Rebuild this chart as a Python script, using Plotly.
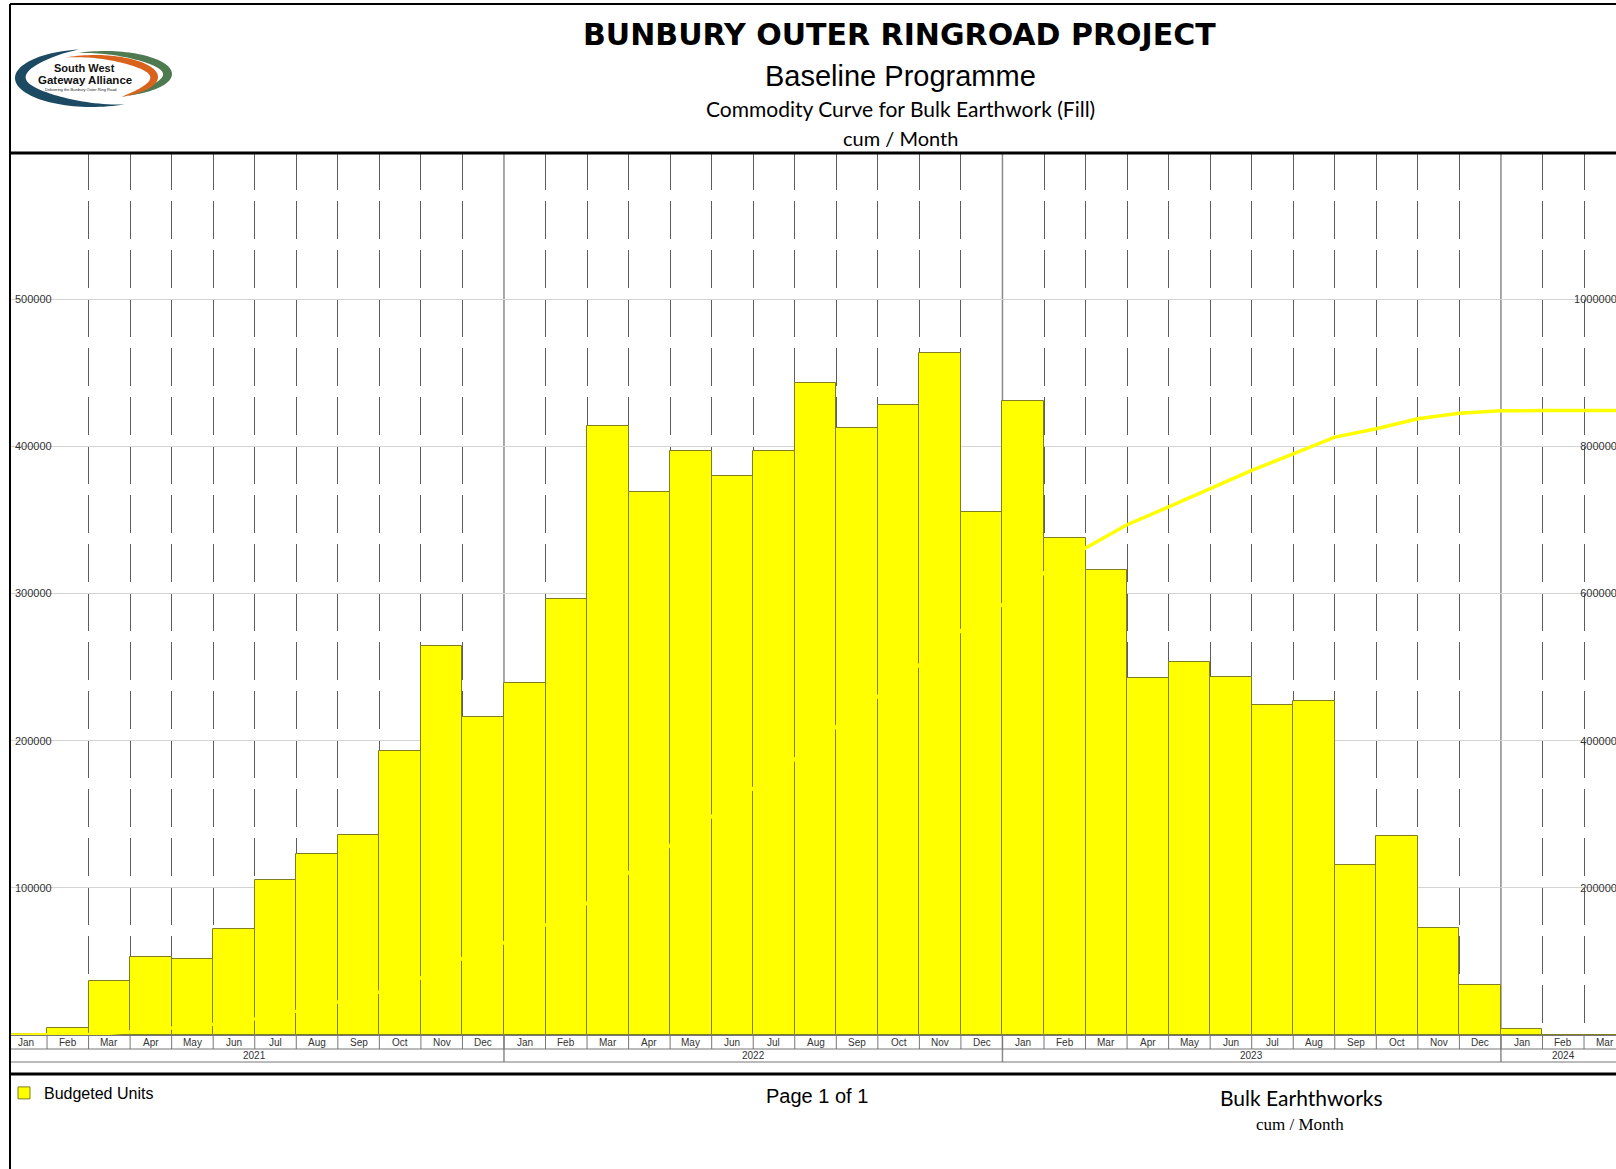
import math
import plotly.graph_objects as go

# ---------------- data ----------------
months = ["Jan", "Feb", "Mar", "Apr", "May", "Jun", "Jul", "Aug", "Sep", "Oct", "Nov", "Dec"] * 3 + ["Jan", "Feb", "Mar"]
years = ["2021", "2022", "2023", "2024"]
year_month_counts = [12, 12, 12, 3]

budgeted_units = [
    1000, 5000, 36500, 53000, 51700, 72000, 105400, 122900, 136200, 192700, 264000, 215800,
    239500, 296100, 414100, 368700, 396600, 379900, 396600, 442700, 412700, 428100, 463700, 355400,
    430900, 337400, 316300, 242300, 253500, 243000, 224200, 227000, 115200, 135500, 72600, 34200,
    4200, 0, 0,
]
cumulative_units = [
    1000, 6000, 42500, 95500, 147200, 219200, 324600, 447500, 583700, 776400, 1040400, 1256200,
    1495700, 1791800, 2205900, 2574600, 2971200, 3351100, 3747700, 4190400, 4603100, 5031200, 5494900, 5850300,
    6281200, 6618600, 6934900, 7177200, 7430700, 7673700, 7897900, 8124900, 8240100, 8375600, 8448200, 8482400,
    8486600, 8486600, 8486600,
]
left_ticks = [100000, 200000, 300000, 400000, 500000]
right_ticks = [2000000, 4000000, 6000000, 8000000, 10000000]

# ---------------- geometry helpers ----------------
W, H = 1616, 1169
PL, PR, PT, PB = 10, 1616, 152, 1035


def px(x):
    return (x - PL) / (PR - PL)


def py(y):
    return (PB - y) / (PB - PT)


x_idx = list(range(len(months)))
line_x = [-0.5] + [i + 0.5 for i in x_idx]
line_y = [0] + cumulative_units

year_starts = []
acc = 0
for c in year_month_counts:
    year_starts.append(acc)
    acc += c
year_bounds = [s - 0.5 for s in year_starts[1:]]
month_bounds = [i - 0.5 for i in x_idx[1:]]
minor_bounds = [b for b in month_bounds if b not in year_bounds] + [x_idx[-1] + 0.5]

AX_FONT = "Liberation Sans, Arial, sans-serif"

fig = go.Figure()
fig.add_trace(go.Bar(
    x=x_idx, y=budgeted_units, width=1.0, name="Budgeted Units",
    marker=dict(color="#FFFF00", line=dict(color="#7f7f22", width=1)),
    yaxis="y", showlegend=True,
))
fig.add_trace(go.Scatter(
    x=line_x, y=line_y, mode="lines", name="Cumulative",
    line=dict(color="#FFFF00", width=3.5), yaxis="y2", showlegend=False,
))

shapes = []
# year boundary solid lines (full height incl. label rows)
for b in year_bounds:
    shapes.append(dict(type="line", xref="x", yref="paper", x0=b, x1=b, y0=py(1062), y1=1,
                       line=dict(color="#8a8a8a", width=1.5), layer="below"))
# month separators in the month label row
for b in month_bounds:
    shapes.append(dict(type="line", xref="x", yref="paper", x0=b, x1=b, y0=py(1049), y1=0,
                       line=dict(color="#777777", width=1), layer="above"))
# label row horizontal lines
for yy in (1049, 1062):
    shapes.append(dict(type="line", xref="paper", yref="paper", x0=0, x1=1, y0=py(yy), y1=py(yy),
                       line=dict(color="#777777", width=1)))
# page frame & thick rules
shapes.append(dict(type="line", xref="paper", yref="paper", x0=0, x1=1, y0=py(1074), y1=py(1074),
                   line=dict(color="#000000", width=3)))
shapes.append(dict(type="line", xref="paper", yref="paper", x0=0, x1=1, y0=py(153), y1=py(153),
                   line=dict(color="#000000", width=3)))
shapes.append(dict(type="line", xref="paper", yref="paper", x0=0, x1=1, y0=py(4), y1=py(4),
                   line=dict(color="#000000", width=2)))
shapes.append(dict(type="line", xref="paper", yref="paper", x0=px(10), x1=px(10), y0=py(4), y1=py(1169),
                   line=dict(color="#000000", width=2)))


# ---------------- logo ----------------
def crescent(cx, cy, rx, ry, a0, a1, thick, peak, color, n=60):
    frac = (peak - a0) / (a1 - a0)
    p = math.log(0.5) / math.log(frac)
    outer, inner = [], []
    for k in range(n + 1):
        t = k / n
        a = math.radians(a0 + (a1 - a0) * t)
        w = thick * math.sin(math.pi * (t ** p))
        outer.append((cx + rx * math.cos(a), cy - ry * math.sin(a)))
        inner.append((cx + (rx - w) * math.cos(a), cy - (ry - w) * math.sin(a)))
    pts = outer + inner[::-1]
    path = "M " + " L ".join(f"{px(x):.5f},{py(y):.5f}" for x, y in pts) + " Z"
    return dict(type="path", xref="paper", yref="paper", path=path,
                fillcolor=color, line=dict(width=0))


shapes.append(crescent(92, 78, 77, 29, 100, 295, 11, 195, "#1d4a63"))
shapes.append(crescent(105, 74, 67, 23, -70, 115, 9, 8, "#4e7a52"))
shapes.append(crescent(95, 77, 63, 22, -65, 118, 8, 15, "#d9631d"))

annotations = []


def text(x, y, s, size, family, color="#000000", xanchor="center"):
    annotations.append(dict(x=px(x), y=py(y), xref="paper", yref="paper", text=s, showarrow=False,
                            xanchor=xanchor, yanchor="middle",
                            font=dict(size=size, family=family, color=color)))


text(84, 68.5, "<b>South West</b>", 11, AX_FONT, "#111111")
text(85, 80.5, "<b>Gateway Alliance</b>", 11.5, AX_FONT, "#111111")
text(81, 89.5, "Delivering the Bunbury Outer Ring Road", 4, AX_FONT, "#222222")

# header titles
text(899, 34, "<b>BUNBURY OUTER RINGROAD PROJECT</b>", 30, "DejaVu Sans, sans-serif")
text(900, 76, "Baseline Programme", 29, AX_FONT)
text(900, 109, "Commodity Curve for Bulk Earthwork (Fill)", 21, "Lato, sans-serif")
text(900, 138, "cum / Month", 20, "Lato, sans-serif")

# month labels (in the month row, positioned on the x scale)
for i, m in zip(x_idx, months):
    annotations.append(dict(x=i, y=py(1042), xref="x", yref="paper", text=m,
                            showarrow=False, xanchor="center", yanchor="middle",
                            font=dict(size=10, family=AX_FONT, color="#333333")))

# year labels
for yname, start, cnt in zip(years, year_starts, year_month_counts):
    annotations.append(dict(x=start + (cnt - 1) / 2, y=py(1055), xref="x", yref="paper", text=yname,
                            showarrow=False, xanchor="center", yanchor="middle",
                            font=dict(size=10, family=AX_FONT, color="#333333")))

# footer
text(817, 1096, "Page 1 of 1", 20, AX_FONT)
text(1301, 1097, "Bulk Earhthworks", 21, "Lato, sans-serif")
text(1300, 1124, "cum / Month", 17, "Liberation Serif, Times New Roman, serif")

fig.update_layout(
    width=W, height=H, autosize=False,
    margin=dict(l=PL, r=W - PR, t=PT, b=H - PB, pad=0),
    paper_bgcolor="#FFFFFF", plot_bgcolor="#FFFFFF",
    bargap=0, barmode="overlay",
    shapes=shapes, annotations=annotations,
    showlegend=True,
    legend=dict(x=px(4), y=py(1093), xanchor="left", yanchor="middle", orientation="h",
                font=dict(size=16, family=AX_FONT, color="#000000"), bgcolor="rgba(0,0,0,0)",
                itemwidth=30),
    xaxis=dict(
        range=[(PL - 5.5) / 41.54 - 0.5, (PR - 5.5) / 41.54 - 0.5],
        tickvals=x_idx, showticklabels=False, ticks="", showgrid=False, zeroline=False,
        showline=True, linecolor="#777777", linewidth=1,
        minor=dict(tickvals=minor_bounds, showgrid=True, gridcolor="#5c5c5c", gridwidth=1.2,
                   griddash="38px,11px", ticks=""),
        fixedrange=True, automargin=False,
    ),
    yaxis=dict(
        range=[0, 600000], tickvals=left_ticks, ticktext=[str(v) for v in left_ticks],
        ticklabelposition="inside", ticklabelstandoff=2, ticks="", showgrid=True,
        gridcolor="#d4d4d4", gridwidth=1, zeroline=False, showline=False,
        tickfont=dict(size=11, family=AX_FONT, color="#333333"),
        fixedrange=True, automargin=False,
    ),
    yaxis2=dict(
        range=[0, 12000000], tickvals=right_ticks, ticktext=[str(v) for v in right_ticks],
        overlaying="y", side="right", ticklabelposition="inside", ticklabelstandoff=-10,
        ticklabeloverflow="allow",
        ticks="", showgrid=False, zeroline=False, showline=False,
        tickfont=dict(size=11, family=AX_FONT, color="#333333"),
        fixedrange=True, automargin=False,
    ),
)

fig.write_html(
    "out.html",
    config={"displayModeBar": False},
    post_script="document.body.style.margin='0';document.body.style.overflow='hidden';",
)
